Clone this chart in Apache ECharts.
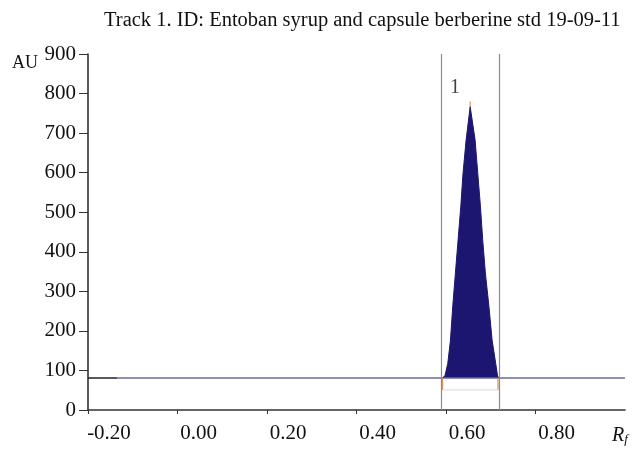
<!DOCTYPE html>
<html>
    <head>
        <meta charset="utf-8">
        <title></title>
        <style>
            body{ margin: 0; }
            #div{
                width: 642px;
                height: 449px;
            }
        </style>
    </head>
    <body>
        <div id="div"></div>
        <script src="https://cdn.jsdelivr.net/npm/echarts@6/dist/echarts.min.js"></script>
        <script>
            // tick labels
            var xTicks = [-0.2, 0, 0.2, 0.4, 0.6, 0.8];
            // baseline
            var baseRf = [-0.135, 1.0];
            var baseAU = [81, 81];
            var startRf = [-0.2, -0.135];
            // peak 1
            var peakRf = [0.593, 0.598, 0.604, 0.610, 0.615, 0.621, 0.627, 0.633, 0.638, 0.645, 0.654,
                          0.665, 0.671, 0.677, 0.682, 0.688, 0.696, 0.703, 0.711, 0.715, 0.717];
            var peakAU = [81, 88, 118, 177, 261, 346, 430, 514, 598, 683, 767,
                          683, 598, 514, 430, 346, 261, 177, 118, 88, 81];
            var peakTop = [767, 780];
            var bounds = [0.5924, 0.7163];
            var intLow = 51;
            var peakLabel = [0.620, 814];

            function pairs(xs, ys){
                var out = [];
                for(var i = 0; i < xs.length; i++){
                    out.push([xs[i], ys[i]]);
                }
                return out;
            }

            var font = 'Liberation Serif';
            var chartDom = document.getElementById('div');
            var myChart = echarts.init(chartDom);
            var option;

            option = {
                animation: false,
                title: {
                    text: 'Track 1. ID: Entoban syrup and capsule berberine std 19-09-11',
                    left: 99,
                    top: 5,
                    textStyle: {fontFamily: font, fontSize: 20.5, fontWeight: 'normal', color: '#111'}
                },
                grid: {left: 88, right: 17, top: 54, bottom: 39, containLabel: false, outerBoundsMode: 'none'},
                xAxis: {
                    type: 'value',
                    min: -0.2,
                    max: 1.0,
                    interval: 0.2,
                    splitLine: {show: false},
                    axisLine: {onZero: false, lineStyle: {color: '#333', width: 1.6}},
                    axisTick: {length: 4, customValues: xTicks, lineStyle: {color: '#333'}},
                    axisLabel: {
                        customValues: xTicks,
                        margin: 13,
                        padding: [0, 0, 0, 42],
                        fontFamily: font,
                        fontSize: 21,
                        color: '#111',
                        formatter: function(v){ return v.toFixed(2); }
                    }
                },
                yAxis: {
                    type: 'value',
                    min: 0,
                    max: 900,
                    interval: 100,
                    splitLine: {show: false},
                    axisLine: {show: true, onZero: false, lineStyle: {color: '#333', width: 1.6}},
                    axisTick: {show: true, length: 9, lineStyle: {color: '#333'}},
                    axisLabel: {margin: 12, fontFamily: font, fontSize: 21, color: '#111'}
                },
                graphic: [
                    {type: 'text', left: 12, top: 54, style: {text: 'AU', font: '18px "Liberation Serif"', fill: '#111'}},
                    {type: 'text', left: 612, top: 426, style: {
                        text: '{r|R}{f|f}',
                        rich: {
                            r: {font: 'italic 20px "Liberation Serif"', fill: '#111'},
                            f: {font: 'italic 13px "Liberation Serif"', fill: '#111', padding: [8, 0, 0, 0]}
                        }
                    }}
                ],
                series: [
                    {
                        type: 'line',
                        data: pairs(startRf, baseAU),
                        symbol: 'none',
                        lineStyle: {color: '#222', width: 1.6}
                    },
                    {
                        type: 'line',
                        data: pairs(baseRf, baseAU),
                        symbol: 'none',
                        lineStyle: {color: '#6a6a98', width: 1.6}
                    },
                    {
                        type: 'line',
                        data: pairs(peakRf, peakAU),
                        symbol: 'none',
                        lineStyle: {color: '#1c1670', width: 1},
                        areaStyle: {color: '#1c1670', opacity: 1, origin: 81},
                        markLine: {
                            silent: true,
                            symbol: 'none',
                            label: {show: false},
                            lineStyle: {color: '#8c8c8c', width: 1.2, type: 'solid'},
                            data: [{xAxis: bounds[0]}, {xAxis: bounds[1]}]
                        }
                    },
                    {
                        type: 'line',
                        data: [[peakRf[10], peakTop[0]], [peakRf[10], peakTop[1]]],
                        symbol: 'none',
                        lineStyle: {color: '#d9925a', width: 1.2}
                    },
                    {
                        type: 'line',
                        data: [[bounds[0], intLow], [bounds[1], intLow]],
                        symbol: 'none',
                        lineStyle: {color: '#e6dede', width: 1.2}
                    },
                    {
                        type: 'line',
                        data: [[bounds[0], baseAU[0]], [bounds[0], intLow], '-', [bounds[1], intLow], [bounds[1], baseAU[0]]],
                        symbol: 'none',
                        lineStyle: {color: '#d9925a', width: 1.2}
                    },
                    {
                        type: 'scatter',
                        data: [peakLabel],
                        symbolSize: 0,
                        label: {show: true, position: 'inside', formatter: '1', fontFamily: font, fontSize: 20, color: '#111'}
                    }
                ]
            };

            option && myChart.setOption(option);
        </script>
    </body>
</html>
